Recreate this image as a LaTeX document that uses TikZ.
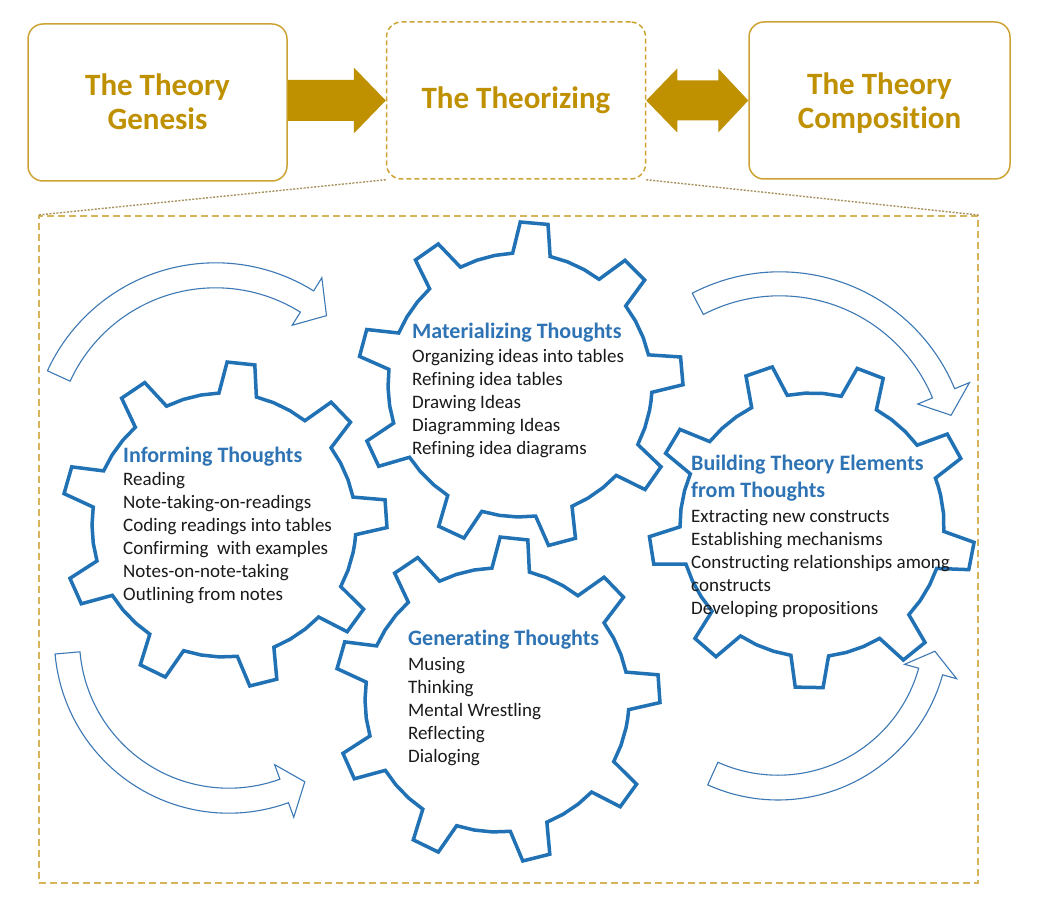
\documentclass[tikz,border=0pt]{standalone}
\usepackage{fontspec}
\setmainfont{Carlito}[Ligatures=NoCommon]
\usetikzlibrary{calc}
\definecolor{gold}{HTML}{BF9000}
\definecolor{goldline}{HTML}{CDA434}
\definecolor{framegold}{HTML}{D6B45A}
\definecolor{dotgold}{HTML}{A8925E}
\definecolor{gearblue}{HTML}{2171B5}
\definecolor{headblue}{HTML}{2E74B5}
\definecolor{arrowblue}{HTML}{3C78B4}
\definecolor{bodytext}{HTML}{1A1A1A}
\newcommand\gearshape[3]{%
 \draw[gearline] ({#1+132*cos(#3-12)},{#2-132*sin(#3-12)})
 \foreach \k [evaluate=\k as \a using {#3+40*\k}] in {0,...,8}{
   -- ({#1+132*cos(\a-8.2)},{#2-132*sin(\a-8.2)})
   -- ({#1+163*cos(\a-4.9)},{#2-163*sin(\a-4.9)})
   -- ({#1+163*cos(\a+4.9)},{#2-163*sin(\a+4.9)})
   -- ({#1+132*cos(\a+8.2)},{#2-132*sin(\a+8.2)})
   -- ({#1+132*cos(\a+16)},{#2-132*sin(\a+16)})
   -- ({#1+132*cos(\a+24)},{#2-132*sin(\a+24)})
 } -- cycle;}
\newcommand\bentarrow[8]{%
 \draw[cva] plot[domain=#6:#7,samples=50] ({#1+(#3+#4)*cos(\x)},{#2+(#3+#4)*sin(\x)})
  -- ({#1+(#3+#5)*cos(#7)},{#2+(#3+#5)*sin(#7)})
  -- ({#1+#3*cos(#8)},{#2+#3*sin(#8)})
  -- ({#1+(#3-#5)*cos(#7)},{#2+(#3-#5)*sin(#7)})
  -- plot[domain=#7:#6,samples=50] ({#1+(#3-#4)*cos(\x)},{#2+(#3-#4)*sin(\x)})
  -- cycle;}
\begin{document}
\begin{tikzpicture}[x=1pt,y=-1pt,
  topbox/.style={draw=goldline, line width=1.5pt, rounded corners=15pt,
    minimum width=259pt, minimum height=157pt, inner sep=0pt, align=center,
    text=gold, font=\fontsize{31}{34}\selectfont\bfseries},
  gearline/.style={draw=gearblue, line width=3.5pt, line join=miter},
  cva/.style={draw=arrowblue, line width=1.1pt, fill=white, line join=miter},
  headtxt/.style={anchor=base west, inner sep=0pt, text=headblue,
    font=\fontsize{22}{27}\selectfont\bfseries},
  bodytxt/.style={anchor=base west, inner sep=0pt, text=bodytext,
    font=\fontsize{19}{23}\selectfont},
  dotline/.style={draw=dotgold, line width=1.4pt, dash pattern=on 2pt off 1.5pt}]
\useasboundingbox (0,0) rectangle (1043,896);
\fill[white] (0,0) rectangle (1043,896);

% top boxes
\node[topbox, text depth=2pt] (gen) at (157.5,102.5) {The Theory\\Genesis};
\node[topbox, dash pattern=on 5pt off 3pt] (theo) at (516,100.5) {The Theorizing};
\node[topbox, minimum width=261pt, text depth=-4pt] (comp) at (879.5,100.5) {The Theory\\Composition};

% block arrows
\fill[gold] let \p1=(gen.east), \p2=(theo.west) in
  (\x1,{\y2+20.5pt}) -- ({\x2-32pt},{\y2+20.5pt}) -- ({\x2-32pt},{\y2+33pt})
  -- (\x2,\y2) -- ({\x2-32pt},{\y2-33pt}) -- ({\x2-32pt},{\y2-20.5pt})
  -- (\x1,{\y2-20.5pt}) -- cycle;
\fill[gold] let \p1=(theo.east), \p2=(comp.west) in
  (\x1,\y1) -- ({\x1+31pt},{\y1+32pt}) -- ({\x1+31pt},{\y1+20pt})
  -- ({\x2-30pt},{\y1+20pt}) -- ({\x2-30pt},{\y1+32pt}) -- (\x2,\y1)
  -- ({\x2-30pt},{\y1-32pt}) -- ({\x2-30pt},{\y1-20pt})
  -- ({\x1+31pt},{\y1-20pt}) -- ({\x1+31pt},{\y1-32pt}) -- cycle;

% zoom frame
\node[draw=framegold, line width=1.5pt, dash pattern=on 7pt off 4pt,
  minimum width=939pt, minimum height=667pt, anchor=north west, inner sep=0pt]
  (frame) at (38,215) {};
\draw[dotline] (theo.south west) -- (frame.north west);
\draw[dotline] (theo.south east) -- (frame.north east);

% gears
\gearshape{224}{525}{4}
\gearshape{520}{385}{5}
\gearshape{497}{700}{4}
\gearshape{812}{525}{29}

% curved arrows
\bentarrow{215.6}{447.8}{172.5}{12.5}{28}{-155.4}{-58}{-50}
\bentarrow{779.7}{461.2}{177.4}{12}{28}{-117.5}{-22.5}{-15}
\bentarrow{228.8}{638.8}{161.9}{12.5}{28}{175}{70}{62}
\bentarrow{778}{629.2}{158.4}{12.4}{27}{114.3}{15.5}{8}

% texts
\node[headtxt] (infh) at (123,462) {Informing Thoughts};
\foreach \t [count=\i from 0] in {Reading,Note-taking-on-readings,Coding readings into tables,Confirming\ \ with examples,Notes-on-note-taking,Outlining from notes}
  \node[bodytxt] (inf\i) at (123,{485+23*\i}) {\t};

\node[headtxt] (math) at (412,338) {Materializing Thoughts};
\foreach \t [count=\i from 0] in {Organizing ideas into tables,Refining idea tables,Drawing Ideas,Diagramming Ideas,Refining idea diagrams}
  \node[bodytxt] (mat\i) at (412,{362+23*\i}) {\t};

\node[headtxt] (buih) at (691,470) {Building Theory Elements};
\node[headtxt] (buih2) at (691,497) {from Thoughts};
\foreach \t [count=\i from 0] in {Extracting new constructs,Establishing mechanisms,Constructing relationships among,constructs,Developing propositions}
  \node[bodytxt] (bui\i) at (691,{522+23*\i}) {\t};

\node[headtxt] (genh) at (408,645) {Generating Thoughts};
\foreach \t [count=\i from 0] in {Musing,Thinking,Mental Wrestling,Reflecting,Dialoging}
  \node[bodytxt] (gt\i) at (408,{670+23*\i}) {\t};
\end{tikzpicture}
\end{document}
